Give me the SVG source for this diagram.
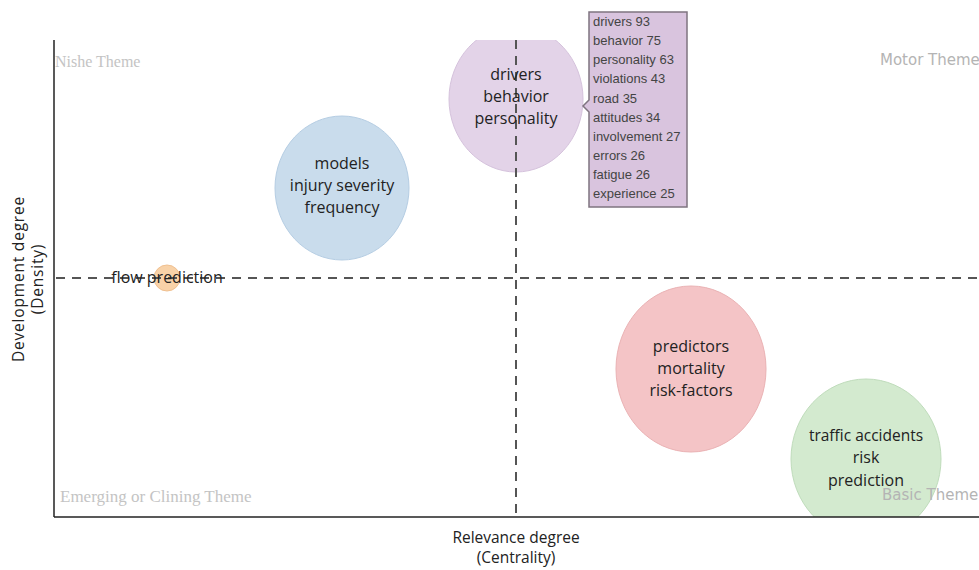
<svg xmlns="http://www.w3.org/2000/svg" width="979" height="570" viewBox="0 0 979 570">
<defs>
<clipPath id="plot"><rect x="54" y="40" width="925" height="477"/></clipPath>
<style>
.node{font-family:"Open Sans","Noto Sans",sans-serif;font-size:16px;fill:#222;text-anchor:middle}
.theme-serif{font-family:"Liberation Serif",serif;font-size:16px;fill:#c4c4c4}
.theme-sans{font-family:"DejaVu Sans",sans-serif;font-size:15px;fill:#b4b4b4}
.axis-label{font-family:"Open Sans","Noto Sans",sans-serif;font-size:15.5px;fill:#222;text-anchor:middle}
.dash{stroke:#555;stroke-width:2;stroke-dasharray:9,7;fill:none}
.axis{stroke:#222;stroke-width:1.5;fill:none}
.tip{font-family:"Liberation Sans",Arial,sans-serif;font-size:13px;fill:#444}
</style>
</defs>
<rect width="979" height="570" fill="#fff"/>
<g id="bubbles" clip-path="url(#plot)">
<g id="node-drivers"><ellipse cx="516" cy="99" rx="67" ry="73" fill="#e3d3e8" stroke="#d5c2dc"/></g>
<g id="node-models"><ellipse cx="342" cy="188" rx="67" ry="72" fill="#c9dcec" stroke="#b5cde3"/></g>
<g id="node-flow"><circle cx="167" cy="278" r="13" fill="#f8d2a8" stroke="#f0c090"/></g>
<g id="node-predictors"><ellipse cx="691" cy="369" rx="75" ry="83" fill="#f4c4c6" stroke="#eab2b4"/></g>
<g id="node-traffic"><ellipse cx="866" cy="459" rx="75" ry="80" fill="#d3eacf" stroke="#bfdcbb"/></g>
</g>
<g id="connectors">
<line class="dash" x1="56" y1="278" x2="979" y2="278"/>
<line class="dash" x1="516" y1="40" x2="516" y2="516"/>
<line class="axis" x1="54" y1="40" x2="54" y2="517"/>
<line class="axis" x1="54" y1="517" x2="979" y2="517"/>
</g>
<g id="labels">
<text class="node" x="516" y="80">drivers</text>
<text class="node" x="516" y="102">behavior</text>
<text class="node" x="516" y="124">personality</text>
<text class="node" x="342" y="169">models</text>
<text class="node" x="342" y="191">injury severity</text>
<text class="node" x="342" y="213">frequency</text>
<text class="node" x="167" y="283">flow prediction</text>
<text class="node" x="691" y="352">predictors</text>
<text class="node" x="691" y="374">mortality</text>
<text class="node" x="691" y="396">risk-factors</text>
<text class="node" x="866" y="441" style="font-size:15.5px">traffic accidents</text>
<text class="node" x="866" y="463">risk</text>
<text class="node" x="866" y="486">prediction</text>
</g>
<g id="themes">
<text class="theme-serif" x="55" y="67">Nishe Theme</text>
<text class="theme-sans" x="880" y="65">Motor Theme</text>
<text class="theme-serif" x="60" y="502" style="font-size:17px">Emerging or Clining Theme</text>
<text class="theme-sans" x="882" y="500">Basic Theme</text>
</g>
<g id="axis-labels">
<text class="axis-label" x="516" y="543">Relevance degree</text>
<text class="axis-label" x="516" y="563">(Centrality)</text>
<text class="axis-label" transform="translate(24,279) rotate(-90)" style="letter-spacing:0.8px">Development degree</text>
<text class="axis-label" transform="translate(43,279) rotate(-90)" style="letter-spacing:0.8px">(Density)</text>
</g>
<g id="tooltip">
<path d="M589 12 H687 V207 H589 V112 L583 106 L589 100 Z" fill="#d9c4de" stroke="#7f7480" stroke-width="1.5"/>
<text class="tip" x="593" y="26">drivers 93</text>
<text class="tip" x="593" y="45">behavior 75</text>
<text class="tip" x="593" y="64">personality 63</text>
<text class="tip" x="593" y="83">violations 43</text>
<text class="tip" x="593" y="103">road 35</text>
<text class="tip" x="593" y="122">attitudes 34</text>
<text class="tip" x="593" y="141">involvement 27</text>
<text class="tip" x="593" y="160">errors 26</text>
<text class="tip" x="593" y="179">fatigue 26</text>
<text class="tip" x="593" y="198">experience 25</text>
</g>
</svg>
